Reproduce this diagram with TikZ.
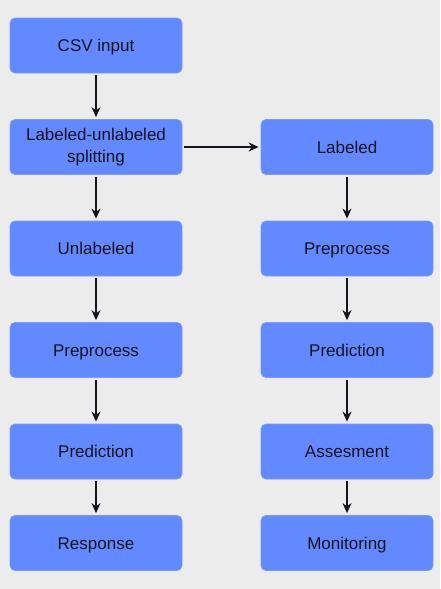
\documentclass[tikz,border=0pt]{standalone}
\usepackage{fontspec}
\setmainfont{Liberation Sans}
\usetikzlibrary{arrows.meta,positioning}
\definecolor{bg}{RGB}{236,236,236}
\definecolor{boxblue}{RGB}{98,137,255}
\definecolor{boxedge}{RGB}{122,155,255}
\definecolor{ink}{RGB}{20,20,30}
\tikzset{
  stepbox/.style={draw=boxedge, line width=0.8pt, rounded corners=5pt, fill=boxblue,
    align=center, minimum width=172pt, minimum height=55pt, inner sep=0pt,
    font=\fontsize{17pt}{22pt}\selectfont, text=ink},
  oneline/.style={stepbox, text height=12.2pt, text depth=0pt},
  flow/.style={draw=ink, line width=1.3pt, -{Stealth[length=10pt, width=9pt]}}
}
\begin{document}
\begin{tikzpicture}[x=1pt, y=-1pt]
    \fill[bg] (0,0) rectangle (440,589);
    \useasboundingbox (0,0) rectangle (440,589);
    % left column
    \node[oneline] (csv) at (96,45.5){CSV input};
    \node[stepbox] (split) at (96,147){Labeled-unlabeled\\splitting};
    \node[oneline] (unlab) at (96,248.5){Unlabeled};
    \node[oneline] (preL) at (96,350){Preprocess};
    \node[oneline] (predL) at (96,451.5){Prediction};
    \node[oneline] (resp) at (96,543){Response};
    % right column
    \node[oneline] (lab) at (347,147){Labeled};
    \node[oneline] (preR) at (347,248.5){Preprocess};
    \node[oneline] (predR) at (347,350){Prediction};
    \node[oneline] (assess) at (347,451.5){Assesment};
    \node[oneline] (monit) at (347,543){Monitoring};
    % arrows
    \draw[flow] ([yshift=-2pt]csv.south) -- ([yshift=2pt]split.north);
    \draw[flow] ([yshift=-2pt]split.south) -- ([yshift=2pt]unlab.north);
    \draw[flow] ([yshift=-2pt]unlab.south) -- ([yshift=2pt]preL.north);
    \draw[flow] ([yshift=-2pt]preL.south) -- ([yshift=2pt]predL.north);
    \draw[flow] ([yshift=-2pt]predL.south) -- ([yshift=2pt]resp.north);
    \draw[flow] ([xshift=2pt]split.east) -- ([xshift=-2pt]lab.west);
    \draw[flow] ([yshift=-2pt]lab.south) -- ([yshift=2pt]preR.north);
    \draw[flow] ([yshift=-2pt]preR.south) -- ([yshift=2pt]predR.north);
    \draw[flow] ([yshift=-2pt]predR.south) -- ([yshift=2pt]assess.north);
    \draw[flow] ([yshift=-2pt]assess.south) -- ([yshift=2pt]monit.north);
  \end{tikzpicture}
\end{document}
